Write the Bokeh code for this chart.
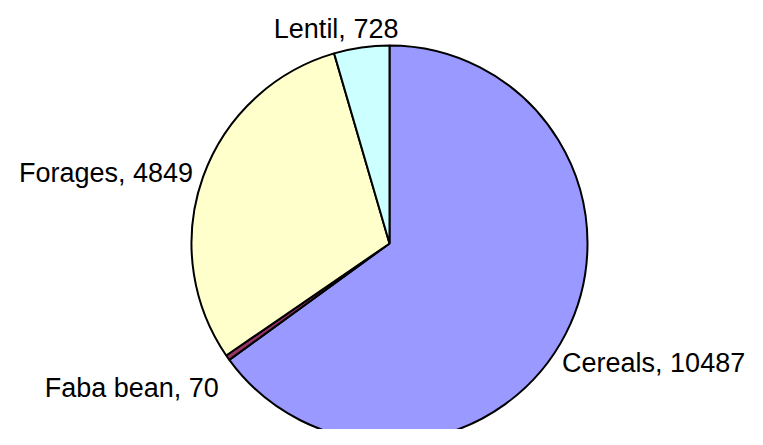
import numpy as np
from bokeh.plotting import figure
from bokeh.models import Range1d, ColumnDataSource
from bokeh.embed import file_html
from bokeh.resources import INLINE
from bokeh.core.properties import value

categories = ["Cereals", "Faba bean", "Forages", "Lentil"]
values = [10487, 70, 4849, 728]
colors = ["#9999FF", "#993366", "#FFFFCC", "#CCFFFF"]

W, H = 747, 429
p = figure(width=W, height=H, output_backend="svg", toolbar_location=None,
           x_range=Range1d(0, W), y_range=Range1d(0, H), min_border=0)
p.axis.visible = False
p.grid.visible = False
p.outline_line_color = None

cx, cy, r = 389, H - 243, 198

vals = np.array(values, dtype=float)
frac = vals / vals.sum()
cum = np.concatenate([[0], np.cumsum(frac)])
start = np.pi / 2 - cum[:-1] * 2 * np.pi
end = np.pi / 2 - cum[1:] * 2 * np.pi

src = ColumnDataSource(dict(start=start, end=end, color=colors))
p.wedge(x=cx, y=cy, radius=r, start_angle="start", end_angle="end",
        direction="clock", fill_color="color", line_color="black",
        line_width=2, source=src)

mid = (start + end) / 2
rl = 215
lx = cx + rl * np.cos(mid)
ly = cy + rl * np.sin(mid)
labels = [f"{c}, {v}" for c, v in zip(categories, values)]
aligns = ["left", "right", "right", "center"]
x_offs = [-19, 5, 6, -23]
y_offs = [22, 21, 2, -2]
for x, y, t, a, xo, yo in zip(lx, ly, labels, aligns, x_offs, y_offs):
    p.text(x=[x], y=[y], text=[t], text_align=a, text_baseline="alphabetic",
           x_offset=xo, y_offset=yo,
           text_font=value("Liberation Sans"), text_font_size="27px",
           text_color="black")

open("out.html", "w").write(file_html(p, INLINE))
